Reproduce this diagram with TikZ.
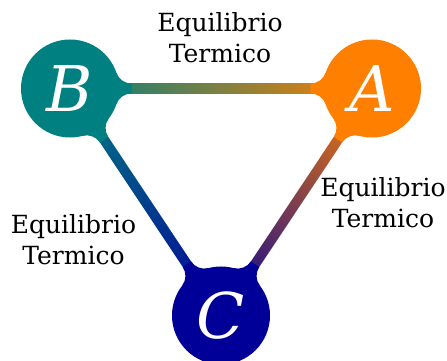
\documentclass[tikz,border=0pt]{standalone}
\usepackage{fontspec}
\setmainfont{DejaVu Serif}
\definecolor{bcol}{RGB}{0,128,128}
\definecolor{acol}{RGB}{255,128,0}
\definecolor{ccol}{RGB}{0,0,153}
\newcommand{\lblfont}{\fontsize{25}{31}\selectfont}
\newcommand{\letfont}{\fontsize{63}{63}\selectfont\itshape}
% fillet between a disc at the origin and a bar along +x
\newcommand{\fillet}[1]{%
  \fill[#1] (40,0) -- (46.36,15.83) arc[start angle=198.85, end angle=270, radius=16] -- (61.5,0) -- cycle;
  \fill[#1, yscale=-1] (40,0) -- (46.36,15.83) arc[start angle=198.85, end angle=270, radius=16] -- (61.5,0) -- cycle;
}
\begin{document}
\begin{tikzpicture}[x=1pt, y=1pt,
  disc/.style={circle, inner sep=0pt, minimum size=98pt, text=white, font=\letfont},
  lbl/.style={align=center, inner sep=0pt, font=\lblfont, anchor=north}]
  \useasboundingbox (0,0) rectangle (447,361);

  \coordinate (B) at (70,272.5);
  \coordinate (A) at (372,272.5);
  \coordinate (C) at (221,45.5);

  % bars
  \begin{scope}[transform canvas={shift={(B)}}]
    \shade[left color=bcol, right color=acol] (0,-5) rectangle (302,5);
  \end{scope}
  \begin{scope}[transform canvas={shift={(B)}, rotate=-56.36}]
    \shade[left color=bcol, right color=ccol] (0,-5) rectangle (272.6,5);
  \end{scope}
  \begin{scope}[transform canvas={shift={(A)}, rotate=-123.64}]
    \shade[left color=acol, right color=ccol] (0,-5) rectangle (272.6,5);
  \end{scope}

  % fillets
  \begin{scope}[shift={(B)}]
    \fillet{bcol}
    \begin{scope}[shift={(302,0)}, xscale=-1] \fillet{acol} \end{scope}
  \end{scope}
  \begin{scope}[shift={(B)}, rotate=-56.36]
    \fillet{bcol}
    \begin{scope}[shift={(272.6,0)}, xscale=-1] \fillet{ccol} \end{scope}
  \end{scope}
  \begin{scope}[shift={(A)}, rotate=-123.64]
    \fillet{acol}
    \begin{scope}[shift={(272.6,0)}, xscale=-1] \fillet{ccol} \end{scope}
  \end{scope}

  \node[disc, fill=bcol] (nB) at (B) {B};
  \node[disc, fill=acol] (nA) at (A) {A};
  \node[disc, fill=ccol] (nC) at (C) {C};

  \node[lbl] (tBA) at (220,349) {Equilibrio\\Termico};
  \node[lbl] (tBC) at (73.5,147) {Equilibrio\\Termico};
  \node[lbl] (tAC) at (383,184) {Equilibrio\\Termico};
\end{tikzpicture}
\end{document}
